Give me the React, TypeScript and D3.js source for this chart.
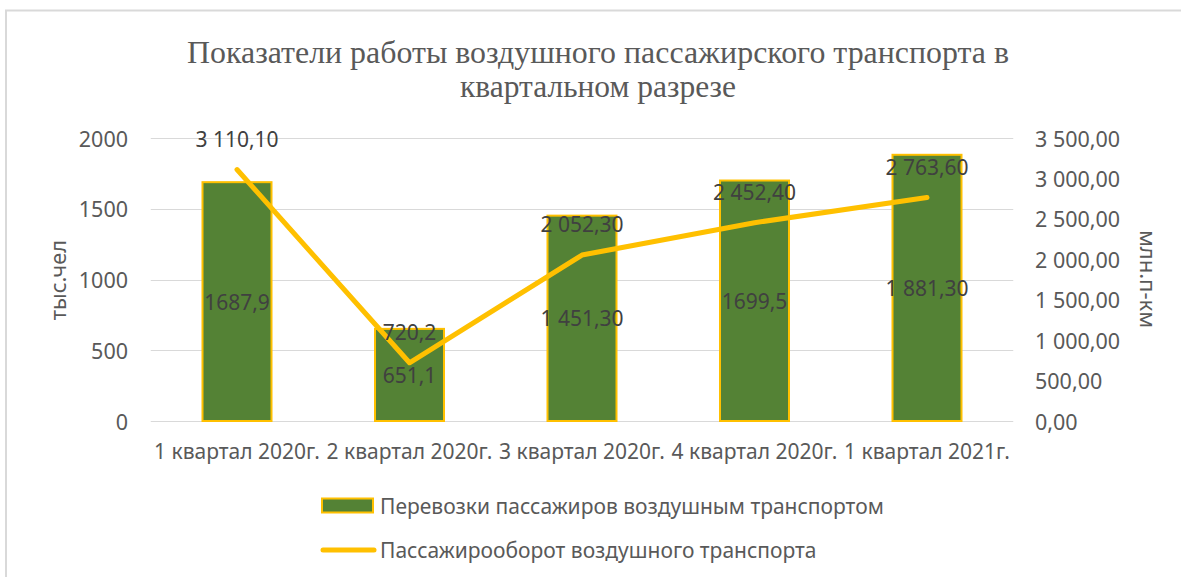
import React from "react";
import * as d3 from "d3";

const categories = ["1 квартал 2020г.", "2 квартал 2020г.", "3 квартал 2020г.", "4 квартал 2020г.", "1 квартал 2021г."];
const passengers = [1687.9, 651.1, 1451.3, 1699.5, 1881.3];
const passengerLabels = ["1687,9", "651,1", "1 451,30", "1699,5", "1 881,30"];
const turnover = [3110.1, 720.2, 2052.3, 2452.4, 2763.6];
const turnoverLabels = ["3 110,10", "720,2", "2 052,30", "2 452,40", "2 763,60"];
const leftTicks = [0, 500, 1000, 1500, 2000];
const rightTicks = [0, 500, 1000, 1500, 2000, 2500, 3000, 3500];
const rightTickLabels = ["0,00", "500,00", "1 000,00", "1 500,00", "2 000,00", "2 500,00", "3 000,00", "3 500,00"];
const titleLines = ["Показатели работы воздушного пассажирского транспорта в", "квартальном разрезе"];
const seriesNames = ["Перевозки пассажиров воздушным транспортом", "Пассажирооборот воздушного транспорта"];

const W = 1181;
const H = 577;
const plotLeft = 150.75;
const plotRight = 1013.25;
const plotTop = 138;
const plotBottom = 421;
const sans = "'Noto Sans', 'Open Sans', sans-serif";
const green = "#548235";
const gold = "#FFC000";
const grey = "#595959";
const dark = "#404040";

export default function App() {
  const x = d3.scaleBand<string>().domain(categories).range([plotLeft, plotRight]).paddingInner(0.6).paddingOuter(0.3);
  const yL = d3.scaleLinear().domain([0, 2000]).range([plotBottom, plotTop]);
  const yR = d3.scaleLinear().domain([0, 3500]).range([plotBottom, plotTop]);
  const cx = (c: string) => (x(c) as number) + x.bandwidth() / 2;
  const line = d3
    .line<number>()
    .x((_, i) => cx(categories[i]))
    .y((d) => yR(d));

  return (
    <svg width={W} height={H} style={{ position: "absolute", left: 0, top: 0, background: "#fff" }}>
      <rect x={0} y={0} width={W} height={H} fill="#fff" />
      <rect x={6} y={10.5} width={W + 20} height={H + 20} fill="none" stroke="#d9d9d9" strokeWidth={2} />
      {titleLines.map((t, i) => (
        <text key={i} x={598} y={63 + i * 34} textAnchor="middle" fontFamily="'Liberation Serif', 'Times New Roman', serif" fontSize={31} fill={grey}
          textLength={i === 0 ? 822 : 276} lengthAdjust="spacingAndGlyphs">
          {t}
        </text>
      ))}
      {leftTicks.map((t) => (
        <line key={t} x1={plotLeft} x2={plotRight} y1={Math.round(yL(t)) + 0.5} y2={Math.round(yL(t)) + 0.5} stroke="#d9d9d9" strokeWidth={1} />
      ))}
      {leftTicks.map((t) => (
        <text key={t} x={128} y={yL(t)} textAnchor="end" dominantBaseline="central" fontFamily={sans} fontSize={21.5} fill={grey}>
          {t}
        </text>
      ))}
      {rightTicks.map((t, i) => (
        <text key={t} x={1035} y={yR(t)} textAnchor="start" dominantBaseline="central" fontFamily={sans} fontSize={21.5} fill={grey}>
          {rightTickLabels[i]}
        </text>
      ))}
      <text transform={`translate(66,280) rotate(-90)`} textAnchor="middle" fontFamily={sans} fontSize={22} fill={grey}>
        тыс.чел
      </text>
      <text transform={`translate(1140,279) rotate(90)`} textAnchor="middle" fontFamily={sans} fontSize={22} fill={grey}>
        млн.п-км
      </text>
      {categories.map((c, i) => (
        <rect key={c} x={x(c)} y={yL(passengers[i])} width={x.bandwidth()} height={yL(0) - yL(passengers[i])} fill={green} stroke={gold} strokeWidth={2} />
      ))}
      <path d={line(turnover) || ""} fill="none" stroke={gold} strokeWidth={5} strokeLinecap="round" strokeLinejoin="round" />
      {categories.map((c, i) => (
        <text key={c} x={cx(c)} y={(yL(passengers[i]) + yL(0)) / 2} textAnchor="middle" dominantBaseline="central" fontFamily={sans} fontSize={21} fill={dark}>
          {passengerLabels[i]}
        </text>
      ))}
      {categories.map((c, i) => (
        <text key={c} x={cx(c)} y={yR(turnover[i]) - 31} textAnchor="middle" dominantBaseline="central" fontFamily={sans} fontSize={21} fill={dark}>
          {turnoverLabels[i]}
        </text>
      ))}
      {categories.map((c) => (
        <text key={c} x={cx(c)} y={459} textAnchor="middle" fontFamily={sans} fontSize={21} fill={grey}>
          {c}
        </text>
      ))}
      <rect x={322} y={498.5} width={51} height={14} fill={green} stroke={gold} strokeWidth={2} />
      <text x={380} y={505.5} dominantBaseline="central" fontFamily={sans} fontSize={21} fill={grey}>
        {seriesNames[0]}
      </text>
      <line x1={323} x2={374} y1={550} y2={550} stroke={gold} strokeWidth={5} strokeLinecap="round" />
      <text x={380} y={550} dominantBaseline="central" fontFamily={sans} fontSize={21} fill={grey}>
        {seriesNames[1]}
      </text>
    </svg>
  );
}
